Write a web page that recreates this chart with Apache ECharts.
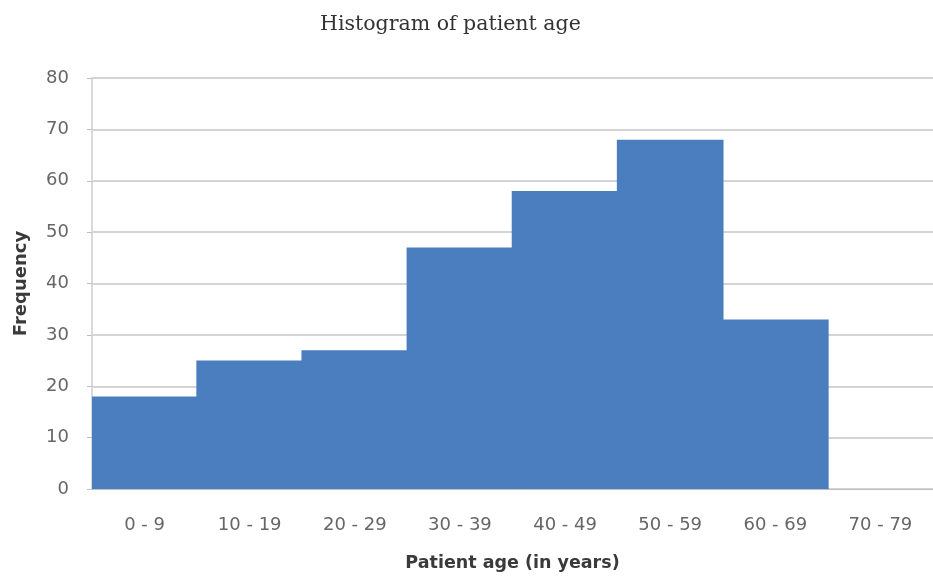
<!DOCTYPE html>
<html><head><meta charset="utf-8">
<script src="https://cdn.jsdelivr.net/npm/echarts@6/dist/echarts.min.js"></script>
<style>html,body{margin:0;padding:0;background:#fff}#c{width:933px;height:580px}</style>
</head><body><div id="c"></div>
<script>
const categories = ['0 - 9','10 - 19','20 - 29','30 - 39','40 - 49','50 - 59','60 - 69','70 - 79'];
const frequency = [18, 25, 27, 47, 58, 68, 33, 0];
const yTicks = [0, 10, 20, 30, 40, 50, 60, 70, 80];

const barColor = '#4a7ebf';
const chart = echarts.init(document.getElementById('c'));
chart.setOption({
  animation: false,
  backgroundColor: '#fff',
  title: {
    text: 'Histogram of patient age',
    left: 315, top: 9,
    textStyle: {fontFamily: 'DejaVu Serif', fontWeight: 'normal', fontSize: 20.5, color: '#333'}
  },
  grid: {left: 92, right: -5, top: 78, bottom: 91},
  xAxis: {
    type: 'category', data: categories,
    name: 'Patient age (in years)', nameLocation: 'middle', nameGap: 65,
    nameTextStyle: {fontFamily: 'DejaVu Sans', fontWeight: 'bold', fontSize: 17.5, color: '#3a3a3a'},
    axisLine: {show: true, lineStyle: {color: '#bfbfbf', width: 1}},
    axisTick: {show: false},
    axisLabel: {fontFamily: 'DejaVu Sans', fontSize: 18, color: '#666', margin: 27},
    splitLine: {show: false}
  },
  yAxis: {
    type: 'value', min: yTicks[0], max: yTicks[yTicks.length-1], interval: 10,
    name: 'Frequency', nameLocation: 'middle', nameGap: 62, nameRotate: 90,
    nameTextStyle: {fontFamily: 'DejaVu Sans', fontWeight: 'bold', fontSize: 18, color: '#3a3a3a'},
    axisLine: {show: true, lineStyle: {color: '#d9d9d9', width: 2}},
    axisTick: {show: true, length: 5, lineStyle: {color: '#bfbfbf'}},
    axisLabel: {fontFamily: 'DejaVu Sans', fontSize: 18, color: '#666', margin: 23},
    splitLine: {show: true, lineStyle: {color: '#d4d4d4', width: 2}}
  },
  series: [{
    type: 'bar', barWidth: '101.5%',
    data: frequency,
    itemStyle: {color: barColor, borderWidth: 0}
  }]
});
</script></body></html>
